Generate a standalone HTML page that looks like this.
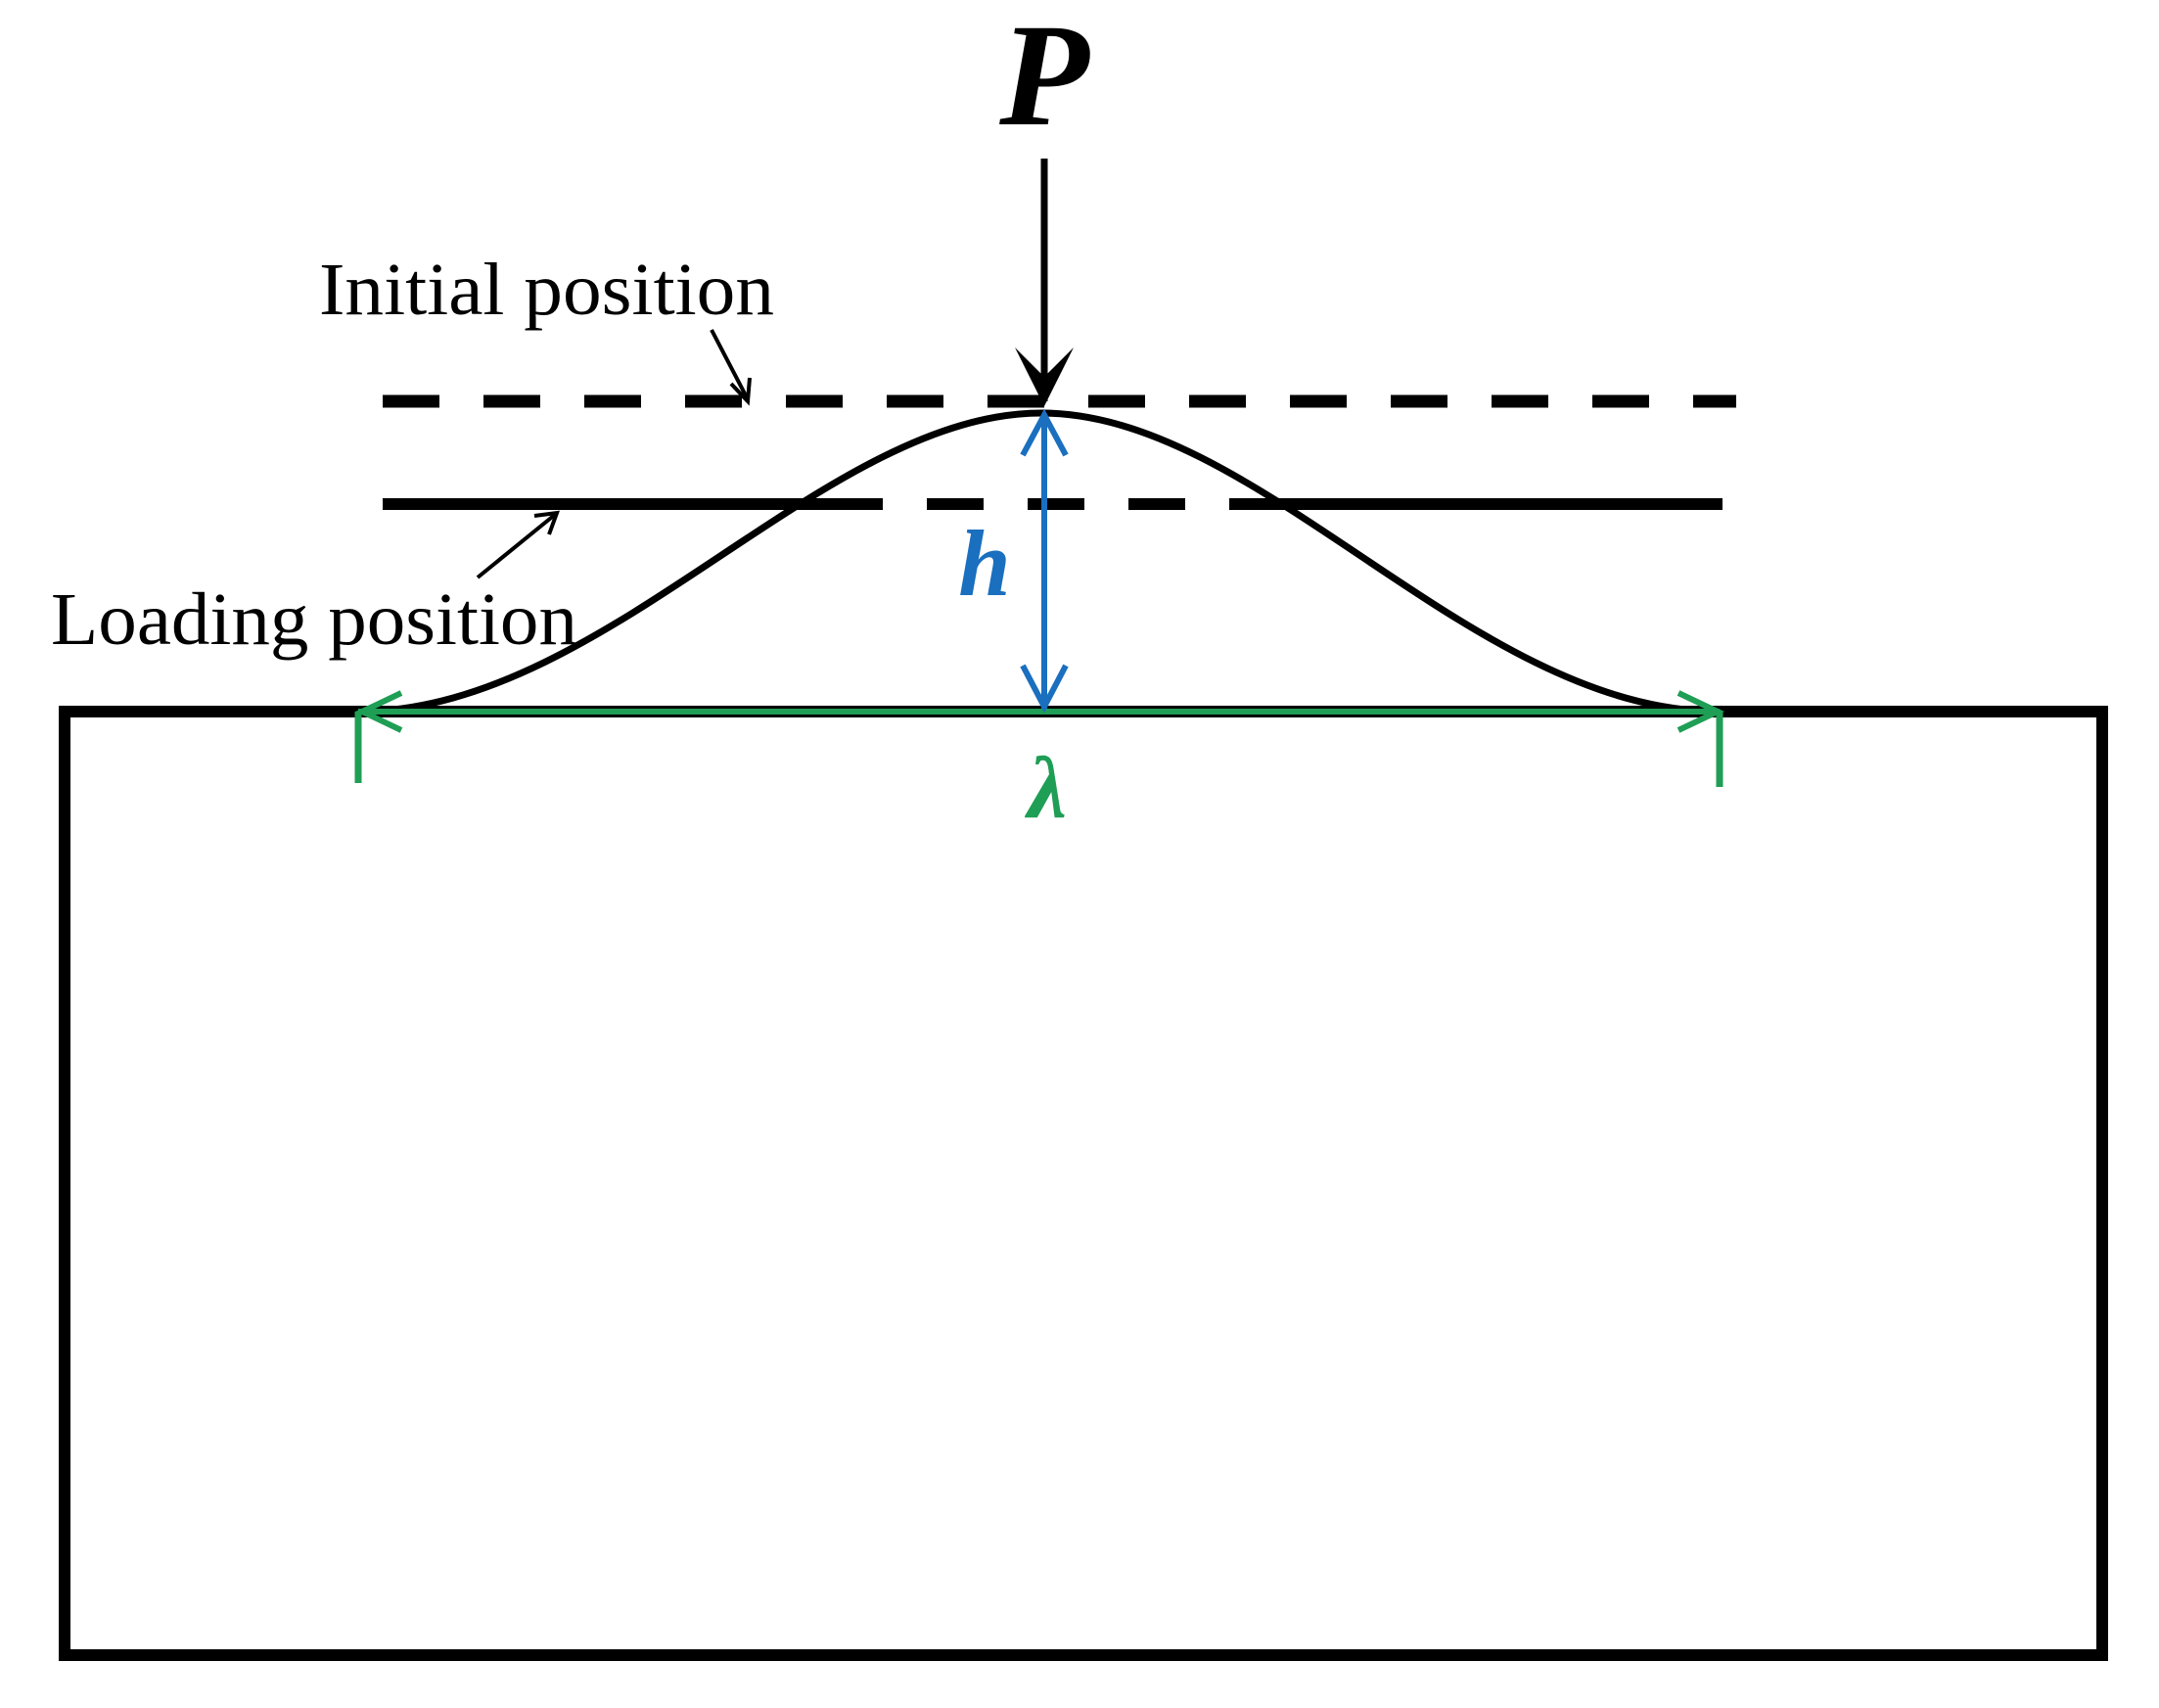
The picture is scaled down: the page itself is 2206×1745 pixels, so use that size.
<!DOCTYPE html>
<html><head><meta charset="utf-8"><style>
html,body{margin:0;padding:0;background:#fff}
svg{display:block}
</style></head><body>
<svg width="2206" height="1745" viewBox="0 0 2206 1745" xmlns="http://www.w3.org/2000/svg">
<rect x="66" y="727" width="2082" height="964" fill="none" stroke="#000" stroke-width="12"/>
<!-- initial dashed line -->
<line x1="391" y1="410" x2="1774" y2="410" stroke="#000" stroke-width="13" stroke-dasharray="58 45"/>
<!-- loading line -->
<line x1="391" y1="515" x2="844" y2="515" stroke="#000" stroke-width="12"/>
<line x1="844" y1="515" x2="1265" y2="515" stroke="#000" stroke-width="12" stroke-dasharray="58 45"/>
<line x1="1265" y1="515" x2="1760" y2="515" stroke="#000" stroke-width="12"/>
<!-- bell curve -->
<path d="M366 727 C 620 727, 840 422, 1064 422 C 1288 422, 1505 727, 1757 727" fill="none" stroke="#000" stroke-width="7"/>
<!-- green lambda line -->
<line x1="366" y1="727" x2="1757" y2="727" stroke="#1f9e55" stroke-width="6"/>
<polyline points="410,708 370,727 410,746" fill="none" stroke="#1f9e55" stroke-width="6"/>
<polyline points="1715,708 1755,727 1715,746" fill="none" stroke="#1f9e55" stroke-width="6"/>
<line x1="366" y1="727" x2="366" y2="800" stroke="#1f9e55" stroke-width="7"/>
<line x1="1757" y1="727" x2="1757" y2="804" stroke="#1f9e55" stroke-width="7"/>
<!-- blue h arrow -->
<line x1="1067" y1="425" x2="1067" y2="724" stroke="#1a6fbf" stroke-width="6"/>
<polyline points="1045,465 1067,424 1089,465" fill="none" stroke="#1a6fbf" stroke-width="6"/>
<polyline points="1045,680 1067,722 1089,680" fill="none" stroke="#1a6fbf" stroke-width="6"/>
<!-- P arrow -->
<line x1="1067" y1="162" x2="1067" y2="410" stroke="#000" stroke-width="7"/>
<polygon points="1037,355 1067,415 1097,355 1067,385" fill="#000"/>
<!-- small pointer arrows -->
<line x1="727" y1="337" x2="764" y2="408" stroke="#000" stroke-width="4"/>
<polyline points="747,392 764,410 766,386" fill="none" stroke="#000" stroke-width="4"/>
<line x1="488" y1="590" x2="568" y2="525" stroke="#000" stroke-width="4"/>
<polyline points="546,527 569,524 561,546" fill="none" stroke="#000" stroke-width="4"/>
<!-- labels -->
<text x="1067" y="127" text-anchor="middle" font-family="Liberation Serif, serif" font-style="italic" font-weight="bold" font-size="150">P</text>
<text x="326" y="321" font-family="Liberation Serif, serif" font-size="76" textLength="465" lengthAdjust="spacingAndGlyphs">Initial position</text>
<text x="52" y="658" font-family="Liberation Serif, serif" font-size="76" textLength="538" lengthAdjust="spacingAndGlyphs">Loading position</text>
<text x="1006" y="608" text-anchor="middle" fill="#1a6fbf" font-family="Liberation Serif, serif" font-style="italic" font-weight="bold" font-size="96">h</text>
<text x="1070" y="835" text-anchor="middle" fill="#1f9e55" font-family="Liberation Serif, serif" font-style="italic" font-weight="bold" font-size="90">λ</text>
</svg>
</body></html>
